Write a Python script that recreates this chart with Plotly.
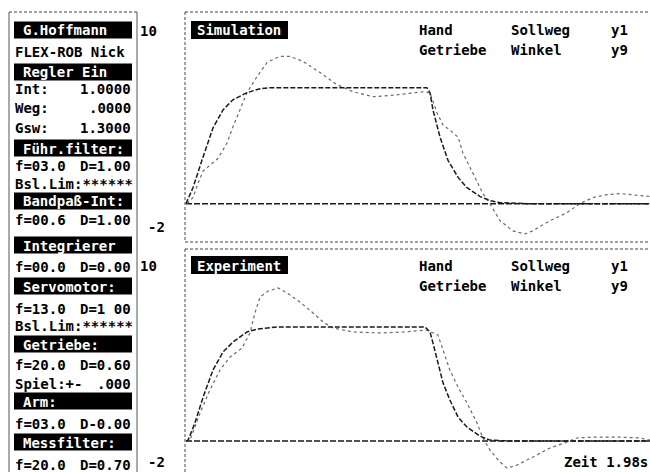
import plotly.graph_objects as go

W, H = 650, 472
FONT = "DejaVu Sans Mono"

# ---------------- data ----------------
# Simulation (upper panel): time in s, value
t_sim_soll = [0.000, 0.030, 0.068, 0.115, 0.158, 0.200, 0.260, 0.316, 0.358, 1.028, 1.041,
              1.054, 1.084, 1.118, 1.161, 1.199, 1.255, 1.297, 1.340, 1.455, 1.980]
y_sim_soll = [0.00, 0.84, 2.26, 3.95, 4.89, 5.42, 5.79, 6.00, 6.05, 6.05, 5.79,
              4.89, 3.47, 2.26, 1.37, 0.84, 0.37, 0.16, 0.05, 0.00, 0.00]

t_sim_winkel = [0.004, 0.030, 0.051, 0.073, 0.102, 0.137, 0.175, 0.200, 0.230, 0.260, 0.303,
                0.346, 0.400, 0.444, 0.500, 0.572, 0.644, 0.713, 0.800, 0.900, 1.011, 1.041,
                1.071, 1.097, 1.126, 1.161, 1.182, 1.212, 1.242, 1.267, 1.297, 1.340, 1.395,
                1.446, 1.480, 1.553, 1.626, 1.680, 1.737, 1.796, 1.852, 1.907, 1.980]
y_sim_winkel = [0.00, 0.32, 1.05, 1.70, 2.00, 2.37, 3.16, 4.00, 4.89, 5.79, 6.63,
                7.37, 7.68, 7.68, 7.42, 6.84, 6.21, 5.84, 5.58, 5.68, 5.84, 5.79,
                4.74, 4.10, 3.84, 3.47, 2.63, 1.89, 1.21, 0.53, 0.00, -0.89, -1.42,
                -1.58, -1.42, -0.89, -0.47, 0.00, 0.32, 0.47, 0.53, 0.47, 0.37]

# Experiment (lower panel)
t_exp_soll = [0.000, 0.009, 0.038, 0.073, 0.115, 0.158, 0.201, 0.260, 0.303, 0.388, 1.020,
              1.041, 1.054, 1.075, 1.097, 1.126, 1.161, 1.199, 1.254, 1.297, 1.383, 1.980]
y_exp_soll = [0.00, 0.05, 0.94, 2.29, 3.70, 4.64, 5.16, 5.68, 5.83, 5.94, 5.94,
              5.68, 5.10, 4.06, 3.02, 2.14, 1.25, 0.73, 0.26, 0.05, 0.00, 0.00]

t_exp_winkel = [0.000, 0.017, 0.060, 0.102, 0.145, 0.188, 0.239, 0.273, 0.294, 0.316, 0.350,
                0.393, 0.431, 0.486, 0.542, 0.585, 0.627, 0.713, 0.828, 0.926, 1.028, 1.054,
                1.075, 1.097, 1.126, 1.161, 1.199, 1.242, 1.267, 1.297, 1.340, 1.370, 1.412,
                1.481, 1.553, 1.626, 1.668, 1.737, 1.839, 1.937, 1.980]
y_exp_winkel = [0.00, 0.05, 1.46, 2.66, 3.70, 4.38, 4.84, 5.63, 6.67, 7.50, 7.81,
                7.97, 7.71, 7.24, 6.67, 6.20, 5.89, 5.68, 5.63, 5.68, 5.78, 5.63,
                5.52, 4.74, 3.70, 2.81, 1.98, 0.94, 0.16, -0.47, -1.09, -1.41, -1.25,
                -0.83, -0.36, -0.05, 0.16, 0.21, 0.21, 0.16, 0.05]

t_base = [0.0, 1.98]
y_base = [0.0, 0.0]

panel_titles = ["Simulation", "Experiment"]
legend_rows = [["Hand", "Sollweg", "y1"], ["Getriebe", "Winkel", "y9"]]
axis_labels = ["10", "-2"]
zeit_label = "Zeit 1.98s"

# left info panel: (kind, left text, right text)
info_rows = [
    ("bar", "G.Hoffmann", ""),
    ("txt", "FLEX-ROB Nick", ""),
    ("bar", "Regler Ein", ""),
    ("txt", "Int:", "1.0000"),
    ("txt", "Weg:", ".0000"),
    ("txt", "Gsw:", "1.3000"),
    ("bar", "Führ.filter:", ""),
    ("txt", "f=03.0", "D=1.00"),
    ("txt", "Bsl.Lim:******", ""),
    ("bar", "Bandpaß-Int:", ""),
    ("txt", "f=00.6", "D=1.00"),
    ("bar", "Integrierer", ""),
    ("txt", "f=00.0", "D=0.00"),
    ("bar", "Servomotor:", ""),
    ("txt", "f=13.0", "D=1 00"),
    ("txt", "Bsl.Lim:******", ""),
    ("bar", "Getriebe:", ""),
    ("txt", "f=20.0", "D=0.60"),
    ("txt", "Spiel:+-", ".000"),
    ("bar", "Arm:", ""),
    ("txt", "f=03.0", "D-0.00"),
    ("bar", "Messfilter:", ""),
    ("txt", "f=20.0", "D=0.70"),
]
row_y = [30, 52, 72, 88, 107, 127, 148, 165, 183, 201, 220, 245, 266, 286, 308, 325,
         344, 364, 383, 401, 423, 442, 464]

# ---------------- helpers ----------------
def px(x):
    return x / W

def py(y):
    return 1 - y / H

fig = go.Figure()

soll_style = dict(color="#1a1a1a", width=1.5, dash="5px,2px")
wink_style = dict(color="#6a6a6a", width=1.2, dash="dot")
base_style = dict(color="#1a1a1a", width=1.5, dash="6px,2px")

for xa, ya, ts, ys, tw, yw in [("x", "y", t_sim_soll, y_sim_soll, t_sim_winkel, y_sim_winkel),
                               ("x2", "y2", t_exp_soll, y_exp_soll, t_exp_winkel, y_exp_winkel)]:
    fig.add_trace(go.Scatter(x=t_base, y=y_base, mode="lines", line=base_style,
                             xaxis=xa, yaxis=ya, showlegend=False, hoverinfo="skip"))
    fig.add_trace(go.Scatter(x=tw, y=yw, mode="lines", line=wink_style,
                             xaxis=xa, yaxis=ya, showlegend=False, name="Winkel"))
    fig.add_trace(go.Scatter(x=ts, y=ys, mode="lines", line=soll_style,
                             xaxis=xa, yaxis=ya, showlegend=False, name="Sollweg"))

ax_common = dict(showgrid=False, zeroline=False, showticklabels=False, showline=False,
                 ticks="", fixedrange=True)
x_left = 185
xrange = [-0.0043, 1.98]

fig.update_layout(
    width=W, height=H,
    margin=dict(l=0, r=0, t=0, b=0),
    paper_bgcolor="white", plot_bgcolor="white",
    xaxis=dict(domain=[px(x_left), 1], range=xrange, anchor="y", **ax_common),
    yaxis=dict(domain=[py(242), py(12)], range=[-2, 10], anchor="x", **ax_common),
    xaxis2=dict(domain=[px(x_left), 1], range=xrange, anchor="y2", **ax_common),
    yaxis2=dict(domain=[0, py(249)], range=[-1.61, 10], anchor="x2", **ax_common),
    showlegend=False,
)

shapes = []
anns = []
frame = dict(color="#555", width=1)
dashed = dict(color="#444", width=1, dash="3px,2px")

# left panel frame
shapes.append(dict(type="line", xref="paper", yref="paper", x0=px(9), x1=px(137), y0=py(12), y1=py(12), line=dashed))
shapes.append(dict(type="line", xref="paper", yref="paper", x0=px(9), x1=px(9), y0=py(12), y1=0, line=frame))
shapes.append(dict(type="line", xref="paper", yref="paper", x0=px(137), x1=px(137), y0=py(12), y1=0, line=frame))

# plot frames
shapes.append(dict(type="line", xref="paper", yref="paper", x0=px(185), x1=1, y0=py(12), y1=py(12), line=dashed))
shapes.append(dict(type="line", xref="paper", yref="paper", x0=px(185), x1=1, y0=py(242), y1=py(242), line=dashed))
shapes.append(dict(type="line", xref="paper", yref="paper", x0=px(185), x1=1, y0=py(249), y1=py(249), line=dashed))
shapes.append(dict(type="line", xref="paper", yref="paper", x0=px(185), x1=px(185), y0=py(12), y1=py(242), line=dashed))
shapes.append(dict(type="line", xref="paper", yref="paper", x0=px(185), x1=px(185), y0=py(249), y1=0, line=dashed))

def text(x, y, s, anchor="left", color="black", size=14):
    anns.append(dict(x=px(x), y=py(y), xref="paper", yref="paper", text=s, showarrow=False,
                     xanchor=anchor, yanchor="middle", borderpad=0,
                     font=dict(family=FONT, size=size, color=color, weight="bold")))

# info panel
for (kind, left, right), yc in zip(info_rows, row_y):
    if kind == "bar":
        shapes.append(dict(type="rect", xref="paper", yref="paper", x0=px(14), x1=px(132),
                           y0=py(yc + 8.5), y1=py(yc - 8.5), fillcolor="black", line=dict(width=0)))
        text(22, yc + 0.5, left, color="white")
    else:
        text(14, yc + 0.5, left)
        if right:
            text(132, yc + 0.5, right, anchor="right")

# axis value labels
for (top_y, bot_y) in [(31, 227), (266, 462)]:
    text(158, top_y, axis_labels[0], anchor="right")
    text(166, bot_y, axis_labels[1], anchor="right")

# panel titles + legends
for title, ty, ly in [(panel_titles[0], 30, 30), (panel_titles[1], 265, 266)]:
    shapes.append(dict(type="rect", xref="paper", yref="paper", x0=px(191), x1=px(288),
                       y0=py(ty + 9), y1=py(ty - 9), fillcolor="black", line=dict(width=0)))
    text(196, ty + 0.5, title, color="white")
    for i, row in enumerate(legend_rows):
        yy = ly + i * 20
        text(418, yy, row[0])
        text(510, yy, row[1])
        text(610, yy, row[2])

text(649, 462, zeit_label, anchor="right")

fig.update_layout(shapes=shapes, annotations=anns)
fig.write_html("out.html")
